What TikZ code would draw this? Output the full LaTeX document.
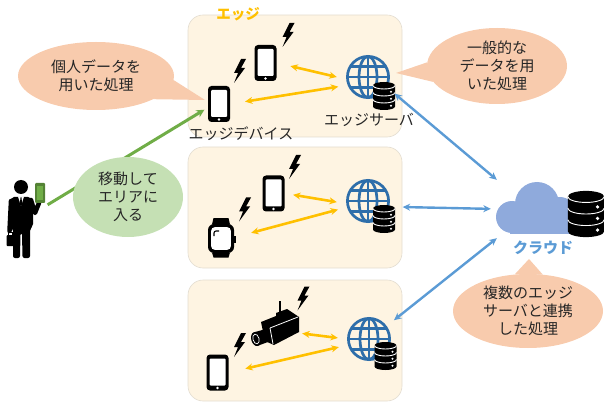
\documentclass[tikz,border=0pt]{standalone}
\usepackage{fontspec}
\setmainfont{Noto Sans CJK JP}
\usetikzlibrary{shapes.geometric,arrows.meta}

\definecolor{cream}{HTML}{FEF4E2}
\definecolor{boxline}{HTML}{E2DCD0}
\definecolor{peach}{HTML}{F8CBAD}
\definecolor{leaf}{HTML}{C5E0B4}
\definecolor{leafline}{HTML}{70AD47}
\definecolor{leafdark}{HTML}{548235}
\definecolor{amber}{HTML}{FFC000}
\definecolor{skyline}{HTML}{5B9BD5}
\definecolor{globeblue}{HTML}{2E6EAA}
\definecolor{cloudfill}{HTML}{8FAADC}
\definecolor{ink}{HTML}{262626}

\tikzset{
  edgebox/.style={draw=boxline, line width=0.6pt, fill=cream, rounded corners=15pt,
    minimum width=214pt, inner sep=0pt},
  bubble/.style={ellipse, fill=peach, inner sep=0pt, align=center, text=ink,
    font=\fontsize{15}{18}\selectfont},
  greenbubble/.style={bubble, fill=leaf},
  lbl/.style={inner sep=0pt, text=ink, font=\fontsize{15}{18}\selectfont},
  spot/.style={inner sep=0pt},
  yarrow/.style={draw=amber, line width=2.6pt,
    {Stealth[length=7.5pt,width=7pt]}-{Stealth[length=7.5pt,width=7pt]}},
  barrow/.style={draw=skyline, line width=2.4pt,
    {Stealth[length=7.5pt,width=7pt]}-{Stealth[length=7.5pt,width=7pt]}},
  garrow/.style={draw=leafline, line width=3pt, -{Stealth[length=8pt,width=8pt]}},
  % smartphone, 22 x 36
  phone/.pic={
    \fill[black, rounded corners=3.5pt] (-11,-18) rectangle (11,18);
    \fill[white, rounded corners=1pt] (-8,-13) rectangle (8,14);
    \fill[white] (0,-15.5) circle (1.4);
  },
  % lightning bolt, 12 x 24
  bolt/.pic={
    \fill[black] (2,12) -- (7,12) -- (2,3) -- (6,3) -- (-5,-12) -- (-1,-2) -- (-5,-2) -- cycle;
  },
  % globe, radius 22
  globe/.pic={
    \begin{scope}[draw=globeblue, line width=2.7pt]
      \draw (0,0) circle (20.6);
      \draw (0,0) ellipse (9 and 20.6);
      \draw (0,-20.6) -- (0,20.6);
      \draw (-20.6,0) -- (20.6,0);
      \draw (-17.6,10.5) -- (17.6,10.5);
      \draw (-17.6,-10.5) -- (17.6,-10.5);
    \end{scope}
  },
  % database stack, 22 x 28
  dbicon/.pic={
    \fill[black] (-11,10.5) arc[start angle=180, end angle=0, x radius=11, y radius=3.5]
      -- (11,-10.5) arc[start angle=0, end angle=-180, x radius=11, y radius=3.5] -- cycle;
    \foreach \yy in {10.5,3.5,-3.5}
      \draw[white, line width=0.9pt] (11,\yy) arc[start angle=0, end angle=-180, x radius=11, y radius=3.5];
    \foreach \yy in {4.3,-2.7,-9.7}
      \fill[white] (7,\yy) circle (1.1);
  },
  % smartwatch
  watch/.pic={
    \fill[black] (-9,14) -- (-7.5,20.5) -- (7.5,20.5) -- (9,14) -- cycle;
    \fill[black] (-9,-14) -- (-7.5,-19) -- (7.5,-19) -- (9,-14) -- cycle;
    \fill[black] (12,-4) rectangle (15,3);
    \fill[black, rounded corners=6pt] (-13,-14.5) rectangle (13,14.5);
    \fill[white, rounded corners=3.5pt] (-9.8,-11.3) rectangle (9.8,11.3);
    \draw[black, line width=1.1pt] (-7,2.5) -- (-7,5.5) arc[start angle=180, end angle=90, radius=2] -- (-2,7.5);
  }
}

\begin{document}
\begin{tikzpicture}[x=1pt, y=1pt]
\useasboundingbox (0,0) rectangle (604,-403);

% edge areas
\node[edgebox, minimum height=122pt] (box1) at (295,-76) {};
\node[edgebox, minimum height=121pt] (box2) at (295,-207.5) {};
\node[edgebox, minimum height=121pt] (box3) at (295,-340.5) {};

% anchor nodes of the icons
\node[spot, minimum width=22pt, minimum height=36pt] (p1) at (219,-104) {};
\node[spot, minimum width=23pt, minimum height=36pt] (p2) at (265.5,-63) {};
\node[spot, minimum width=23pt, minimum height=37pt] (p3) at (273.5,-193.5) {};
\node[spot, minimum width=22pt, minimum height=35pt] (p4) at (217.5,-372.5) {};
\node[spot, minimum width=29pt, minimum height=39pt] (w1) at (221,-237) {};
\node[spot, minimum width=46pt, minimum height=44pt] (cam) at (275,-325) {};
\node[spot, circle, minimum size=62pt] (g1) at (368,-77) {};
\node[spot, circle, minimum size=62pt] (g2) at (368,-201) {};
\node[spot, circle, minimum size=62pt] (g3) at (369,-339) {};
\node[spot, minimum width=107pt, minimum height=58pt] (cloud) at (550.5,-209) {};
\node[spot, minimum width=37pt, minimum height=78pt] (person) at (25.5,-219) {};

% movement of the user into the area
\draw[garrow, shorten <=4pt, shorten >=4pt] (person.33) -- (p1.198);

% speech bubbles
\node[bubble, minimum width=156pt, minimum height=68pt] (c1) at (96,-76) {個人データを\\用いた処理};
\coordinate (t1) at (205,-100);
\fill[peach] (c1.-3) -- (t1) -- (c1.-22) -- cycle;

\node[bubble, minimum width=140pt, minimum height=76pt] (c2) at (497,-66) {一般的な\\データを用\\いた処理};
\coordinate (t2) at (396,-73);
\fill[peach] (c2.177) -- (t2) -- (c2.194) -- cycle;

\node[bubble, minimum width=150pt, minimum height=74pt] (c3) at (528,-311) {複数のエッジ\\サーバと連携\\した処理};
\coordinate (t3) at (529,-259);
\fill[peach] (c3.110) -- (t3) -- (c3.68) -- cycle;

\node[greenbubble, minimum width=110pt, minimum height=80pt] (gn) at (128,-197) {移動して\\エリアに\\入る};

% devices
\pic at (p1) {phone};
\pic at (p2) {phone};
\pic at (p3) {phone};
\pic at (p4) {phone};
\pic at (221,-238.5) {watch};
\pic at (239,-71) {bolt};
\pic at (287.5,-35) {bolt};
\pic at (294,-167) {bolt};
\pic at (244,-209.5) {bolt};
\pic at (302.5,-298.5) {bolt};
\pic at (239,-345) {bolt};

% surveillance camera
\draw[black, line width=2pt] (280,-313) -- (280,-301);
\fill[black] (261,-322) -- (276,-316) -- (276,-313) -- (287,-309) -- (290,-311)
  -- (299,-317) -- (299,-332) -- (274,-345) -- (265,-341) -- cycle;
\draw[white, line width=0.8pt] (270,-328) -- (298,-317);
\draw[white, line width=0.8pt] (270,-328) -- (273,-344);
\fill[black] (266,-329) -- (255,-332) -- (257,-346) -- (268,-342) -- cycle;
\fill[black, rotate around={15:(256,-339)}] (256,-339) ellipse (4.8 and 7.2);
\draw[white, line width=0.7pt, rotate around={15:(256,-339)}] (256,-339) ellipse (3 and 5);

% edge servers
\pic at (g1) {globe};
\pic at (g2) {globe};
\pic at (g3) {globe};
\pic at (384,-96) {dbicon};
\pic at (384,-219) {dbicon};
\pic at (385.5,-356) {dbicon};

% cloud with storage
\begin{scope}
  \fill[cloudfill] (512,-217) circle (16);
  \fill[cloudfill] (537,-204) circle (22);
  \fill[cloudfill] (560,-212) circle (15);
  \fill[cloudfill] (510,-214) rectangle (570,-234);
\end{scope}
\pic[scale=1.65] at (586,-214) {dbicon};

% user with tablet
\fill[black] (21,-187) circle (7);
\fill[black, rounded corners=2pt] (12,-197) -- (30,-197) -- (33,-201) -- (33,-226) -- (30,-229)
  -- (30,-258) -- (22.5,-258) -- (22,-233) -- (20.5,-233) -- (20,-258) -- (13,-258)
  -- (13,-229) -- (10,-226) -- (10,-201) -- cycle;
\draw[black, line width=4.5pt, line cap=round] (11,-201) -- (9.5,-231);
\draw[black, line width=4.5pt, line cap=round, line join=round] (31,-200) -- (35,-213) -- (39,-203);
\fill[white] (18,-196.5) -- (24,-196.5) -- (21,-206) -- cycle;
\fill[black] (20.5,-197.5) -- (21.5,-197.5) -- (22.2,-204) -- (21,-206.5) -- (19.8,-204) -- cycle;
\draw[black, line width=1pt] (8.5,-235) -- (8.5,-232) -- (12,-232) -- (12,-235);
\fill[black, rounded corners=1pt] (6.5,-235) rectangle (14,-246);
\fill[leafdark, rounded corners=1pt] (35,-183) rectangle (45,-203);
\fill[leafline] (37,-186) rectangle (43,-200);

% links inside the edge areas
\draw[yarrow, shorten <=13.5pt] (p2.east) -- (g1.180);
\draw[yarrow, shorten <=15pt] (p1.east) -- (g1.198);
\draw[yarrow, shorten <=8pt] (p3.east) -- (g2.182);
\draw[yarrow, shorten <=16pt] (w1.east) -- (g2.196);
\draw[yarrow, shorten <=4pt] (cam.-19) -- (g3.178);
\draw[yarrow, shorten <=17pt] (p4.east) -- (g3.195);

% links to the cloud
\draw[barrow] (g1.-32) -- (cloud.north west);
\draw[barrow, shorten <=4pt, shorten >=6pt] (g2.-11) -- (cloud.west);
\draw[barrow] (g3.37) -- (cloud.south west);

% labels
\node[lbl, text=amber, font=\fontsize{14.5}{17}\selectfont\bfseries] (ttl) at (238,-14) {エッジ};
\node[lbl] (ldev) at (241,-134) {エッジデバイス};
\node[lbl] (lsrv) at (369,-120) {エッジサーバ};
\node[lbl, text=skyline, font=\fontsize{15}{18}\selectfont\bfseries] (lcl) at (543,-248) {クラウド};
\end{tikzpicture}
\end{document}
